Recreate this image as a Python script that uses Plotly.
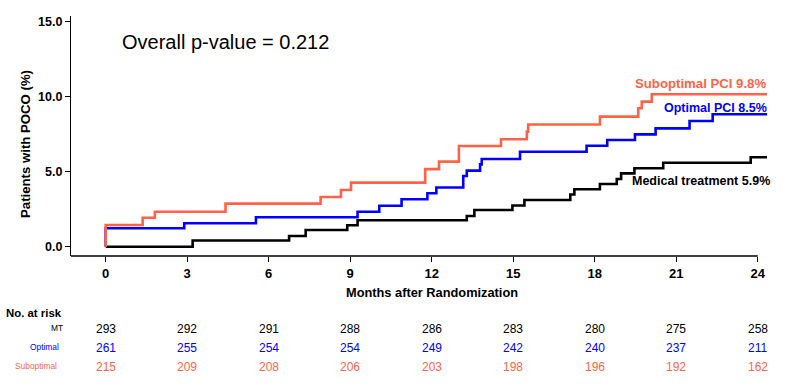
import plotly.graph_objects as go

# ---------------- data ----------------
months_sub = [0, 0, 1.36, 1.81, 4.41, 7.91, 8.66, 9.03, 11.76, 12.27, 13.0, 14.55,
              15.5, 15.55, 18.19, 19.6, 19.73, 20.1, 24.34]
pct_sub = [0, 1.45, 1.93, 2.33, 2.87, 3.31, 3.78, 4.27, 5.17, 5.67, 6.71, 7.16,
           7.67, 8.15, 8.67, 9.23, 9.67, 10.16, 10.16]

months_opt = [0, 0, 2.89, 5.53, 9.27, 10.07, 10.89, 11.84, 12.17, 13.16, 13.29, 13.78,
              13.84, 15.25, 17.7, 18.46, 19.48, 20.24, 21.49, 22.34, 24.37]
pct_opt = [0, 1.23, 1.56, 1.96, 2.33, 2.73, 3.16, 3.56, 3.95, 4.71, 5.07, 5.49,
           5.85, 6.33, 6.73, 7.11, 7.49, 7.89, 8.38, 8.83, 8.83]

months_mt = [0, 3.2, 6.75, 7.36, 8.89, 9.27, 13.29, 13.57, 14.97, 15.41, 17.1, 17.25,
             18.19, 18.81, 18.97, 19.46, 20.52, 23.74, 24.34]
pct_mt = [0, 0.41, 0.71, 1.11, 1.43, 1.76, 2.05, 2.45, 2.75, 3.11, 3.48, 3.83,
          4.18, 4.51, 4.89, 5.23, 5.60, 5.96, 5.96]

x_ticks = [0, 3, 6, 9, 12, 15, 18, 21, 24]
y_ticks = [0, 5, 10, 15]
y_tick_text = ["0.0", "5.0", "10.0", "15.0"]

risk_mt = [293, 292, 291, 288, 286, 283, 280, 275, 258]
risk_opt = [261, 255, 254, 254, 249, 242, 240, 237, 211]
risk_sub = [215, 209, 208, 206, 203, 198, 196, 192, 162]

label_sub = "Suboptimal PCI 9.8%"
label_opt = "Optimal PCI 8.5%"
label_mt = "Medical treatment 5.9%"
p_text = "Overall p-value = 0.212"

# ---------------- styling ----------------
W, H = 787, 388
ML, MR, MT_, MB = 71, 20, 16, 132
PW, PH = W - ML - MR, H - MT_ - MB

RED = "#FF6347"
BLUE = "#0000FF"
BLACK = "#000000"
FONT = "Liberation Sans, Arial, sans-serif"


def py(pix):  # pixel row -> paper y
    return (H - MB - pix) / PH


def px(pix):  # pixel column -> paper x
    return (pix - ML) / PW


fig = go.Figure()
for xs, ys, col in [(months_mt, pct_mt, BLACK), (months_opt, pct_opt, BLUE),
                    (months_sub, pct_sub, RED)]:
    fig.add_trace(go.Scatter(x=xs, y=ys, mode="lines", line=dict(color=col, width=2.6, shape="hv"),
                             showlegend=False, hoverinfo="skip"))

ann = []
# curve labels
ann.append(dict(x=px(768), y=py(83), xref="paper", yref="paper", text=label_sub, showarrow=False,
                xanchor="right", yanchor="middle", font=dict(family=FONT, size=13.2, color=RED, weight="bold")))
ann.append(dict(x=px(769), y=py(108), xref="paper", yref="paper", text=label_opt, showarrow=False,
                xanchor="right", yanchor="middle", font=dict(family=FONT, size=12.5, color=BLUE, weight="bold")))
ann.append(dict(x=px(772), y=py(181), xref="paper", yref="paper", text=label_mt, showarrow=False,
                xanchor="right", yanchor="middle", font=dict(family=FONT, size=12.5, color=BLACK, weight="bold")))
# p-value
ann.append(dict(x=px(225), y=py(42), xref="paper", yref="paper", text=p_text, showarrow=False,
                xanchor="center", yanchor="middle", font=dict(family=FONT, size=20, color=BLACK)))
# axis titles
ann.append(dict(x=12, y=py(292), xref="x", yref="paper", text="Months after Randomization", showarrow=False,
                xanchor="center", yanchor="middle", font=dict(family=FONT, size=12.8, color=BLACK, weight="bold")))
ann.append(dict(x=px(25), y=py(144), xref="paper", yref="paper", text="Patients with POCO (%)", showarrow=False,
                textangle=-90, xanchor="center", yanchor="middle",
                font=dict(family=FONT, size=13.2, color=BLACK, weight="bold")))
# risk table
ann.append(dict(x=px(4), y=py(313), xref="paper", yref="paper", text="No. at risk", showarrow=False,
                xanchor="left", yanchor="middle", font=dict(family=FONT, size=11.4, color=BLACK, weight="bold")))
rows = [("MT", risk_mt, BLACK, 329, 65), ("Optimal", risk_opt, BLUE, 348, 61), ("Suboptimal", risk_sub, RED, 367, 59)]
for name, vals, col, ypix, xr in rows:
    ann.append(dict(x=px(xr), y=py(ypix - 1.5), xref="paper", yref="paper", text=name, showarrow=False,
                    xanchor="right", yanchor="middle", font=dict(family=FONT, size=8.4, color=col)))
    for t, v in zip(x_ticks, vals):
        ann.append(dict(x=t, y=py(ypix), xref="x", yref="paper", text=str(v), showarrow=False,
                        xanchor="center", yanchor="middle", font=dict(family=FONT, size=12, color=col)))

fig.update_layout(
    width=W, height=H,
    margin=dict(l=ML, r=MR, t=MT_, b=MB),
    paper_bgcolor="white", plot_bgcolor="white",
    annotations=ann,
    shapes=[dict(type="line", xref="x", yref="paper", x0=-1.277, x1=24, y0=0, y1=0,
                 line=dict(color=BLACK, width=1.3))],
    xaxis=dict(range=[-1.277, 24.34], tickvals=x_ticks, ticks="outside", ticklen=5, tickwidth=1.2,
               tickcolor=BLACK, showgrid=False, zeroline=False, showline=False,
               tickfont=dict(family=FONT, size=13, color=BLACK, weight="bold")),
    yaxis=dict(range=[-0.62, 15.38], tickvals=y_ticks, ticktext=y_tick_text, ticks="outside", ticklen=5,
               tickwidth=1.2, tickcolor=BLACK, showgrid=False, zeroline=False, showline=True,
               linecolor=BLACK, linewidth=1.3,
               tickfont=dict(family=FONT, size=12.5, color=BLACK, weight="bold")),
)

fig.write_html("out.html", config={"displayModeBar": False},
               post_script="document.body.style.margin='0';document.body.style.overflow='hidden';")
